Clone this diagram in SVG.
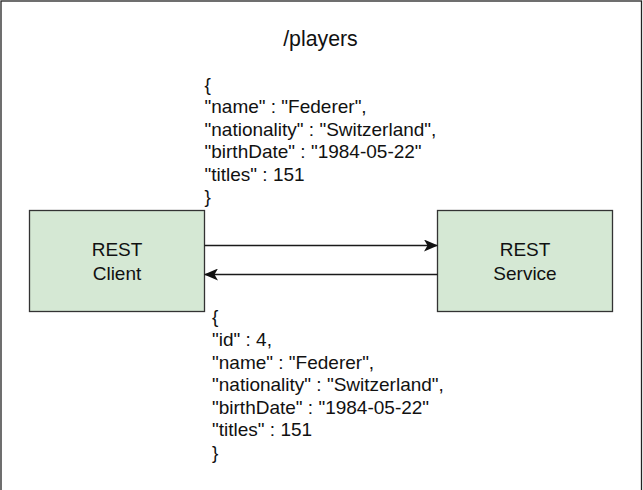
<svg xmlns="http://www.w3.org/2000/svg" width="643" height="490" viewBox="0 0 643 490">
<defs>
<style>
.t{font-family:"Liberation Sans",Arial,sans-serif;font-size:19px;fill:#111}
.c{text-anchor:middle}
.box{fill:#d5e8d4;stroke:#333;stroke-width:1.3}
.edge{stroke:#1a1a1a;stroke-width:1.3;fill:none}
</style>
<marker id="arr" viewBox="0 0 14 12" refX="13" refY="6" markerWidth="14" markerHeight="12" markerUnits="userSpaceOnUse" orient="auto">
<path d="M0,0 L14,6 L0,12 L3.5,6 Z" fill="#111"/>
</marker>
</defs>
<rect x="0" y="0" width="643" height="490" fill="#fff"/>
<rect x="1" y="1" width="640.5" height="520" fill="none" stroke="#222" stroke-width="1.3"/>
<text class="t c" x="320.5" y="46" style="font-size:21.3px">/players</text>
<g id="request">
<text class="t" x="204.5" y="90.5">{</text>
<text class="t" x="204.5" y="113">"name" : "Federer",</text>
<text class="t" x="204.5" y="135.5">"nationality" : "Switzerland",</text>
<text class="t" x="204.5" y="158">"birthDate" : "1984-05-22"</text>
<text class="t" x="204.5" y="180.5">"titles" : 151</text>
<text class="t" x="204.5" y="203">}</text>
</g>
<g id="client">
<rect class="box" x="29.5" y="210.5" width="175" height="101"/>
<text class="t c" x="117" y="256">REST</text>
<text class="t c" x="117" y="280">Client</text>
</g>
<g id="service">
<rect class="box" x="437.5" y="210.5" width="175" height="101"/>
<text class="t c" x="525" y="256">REST</text>
<text class="t c" x="525" y="280">Service</text>
</g>
<g id="connectors">
<line class="edge" x1="204.5" y1="245.5" x2="437" y2="245.5" marker-end="url(#arr)"/>
<line class="edge" x1="437.5" y1="274.5" x2="205" y2="274.5" marker-end="url(#arr)"/>
</g>
<g id="response">
<text class="t" x="212" y="322.5">{</text>
<text class="t" x="212" y="346">"id" : 4,</text>
<text class="t" x="212" y="368.5">"name" : "Federer",</text>
<text class="t" x="212" y="391">"nationality" : "Switzerland",</text>
<text class="t" x="212" y="413.5">"birthDate" : "1984-05-22"</text>
<text class="t" x="212" y="436">"titles" : 151</text>
<text class="t" x="212" y="458.5">}</text>
</g>
</svg>
